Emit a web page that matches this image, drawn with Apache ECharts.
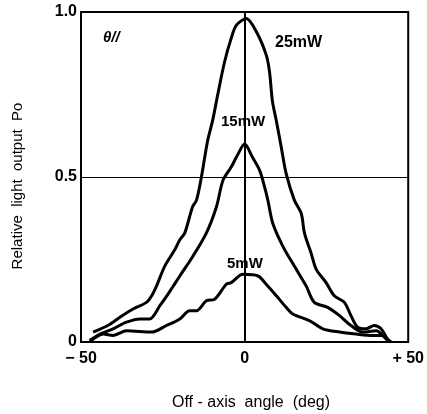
<!DOCTYPE html>
<html>
<head>
<meta charset="utf-8">
<script src="https://cdn.jsdelivr.net/npm/echarts@6/dist/echarts.min.js"></script>
<style>
  html, body { margin: 0; padding: 0; background: #fff; }
  #chart { width: 427px; height: 414px; }
</style>
</head>
<body>
<div id="chart"></div>
<script>
// off-axis angle (deg) vs relative light output
const p25x = [-46.3, -41.8, -38.1, -34.1, -30.0, -28.4, -26.9, -24.4, -21.3, -19.8, -18.3, -15.9, -14.7, -13.2, -11.3, -9.8, -8.2, -6.1, -4.1, -2.5, 0.5, 3.6, 6.6, 7.6, 8.5, 9.7, 11.2, 12.7, 15.2, 17.3, 18.3, 20.3, 21.9, 24.9, 27.4, 30.5, 32.5, 34.5, 37.1, 39.6, 41.7, 43.6, 44.7]
const p25y = [0.03, 0.05, 0.075, 0.10, 0.12, 0.14, 0.17, 0.23, 0.28, 0.31, 0.33, 0.41, 0.43, 0.50, 0.61, 0.67, 0.75, 0.85, 0.92, 0.96, 0.98, 0.94, 0.87, 0.82, 0.73, 0.67, 0.59, 0.51, 0.43, 0.39, 0.33, 0.27, 0.22, 0.18, 0.14, 0.12, 0.08, 0.045, 0.04, 0.05, 0.04, 0.01, 0]

const p15x = [-47.3, -44.2, -40.2, -36.1, -32.0, -29.0, -25.9, -23.4, -19.8, -15.8, -11.7, -8.6, -6.6, -4.1, -2.0, 0, 2.4, 4.6, 6.1, 7.1, 8.6, 11.7, 15.2, 18.8, 21.3, 25.4, 29.0, 32.5, 36.1, 40.2, 43.2, 44.2]
const p15y = [0.005, 0.024, 0.04, 0.06, 0.07, 0.07, 0.11, 0.145, 0.20, 0.26, 0.33, 0.41, 0.49, 0.53, 0.57, 0.60, 0.56, 0.52, 0.47, 0.43, 0.36, 0.29, 0.23, 0.17, 0.12, 0.105, 0.08, 0.05, 0.03, 0.034, 0.01, 0]

const p5x = [-47.3, -43.2, -40.2, -36.1, -28.4, -23.9, -19.8, -16.8, -14.7, -11.7, -9.1, -5.6, -4.1, -0.5, 4.1, 6.6, 9.7, 12.7, 14.7, 19.8, 23.9, 29.0, 34.1, 39.1, 42.2, 43.7, 44.7]
const p5y = [0, 0.024, 0.02, 0.034, 0.03, 0.05, 0.07, 0.095, 0.095, 0.125, 0.13, 0.175, 0.18, 0.205, 0.20, 0.175, 0.14, 0.105, 0.085, 0.065, 0.04, 0.03, 0.024, 0.02, 0.02, 0.005, 0]

const xTicks = {'-50': '− 50', '0': '0', '50': '+ 50'}
const yTicks = {'0': '0', '0.5': '0.5', '1': '1.0'}

function pairs(xs, ys) {
    return xs.map((x, i) => [x, ys[i]])
}

let chart = echarts.init(document.getElementById('chart'))

const FONT = 'Liberation Sans'

function curve(name, xs, ys) {
    return {
        name: name,
        type: 'line',
        data: pairs(xs, ys),
        symbol: 'none',
        smooth: 0.3,
        lineStyle: { color: '#000', width: 3 },
        z: 5
    }
}

let option = {
    backgroundColor: '#fff',
    animation: false,
    grid: {
        left: 81,
        right: 18,
        top: 12,
        bottom: 72,
        show: true,
        borderColor: '#000',
        borderWidth: 2
    },
    xAxis: {
        type: 'value',
        min: -50,
        max: 50,
        interval: 50,
        axisLine: { show: true, lineStyle: { color: '#000', width: 2 } },
        axisTick: { show: false },
        splitLine: { show: true, lineStyle: { color: '#000', width: 1 } },
        axisLabel: {
            margin: 9,
            color: '#000',
            fontFamily: FONT,
            fontWeight: 'bold',
            fontSize: 16,
            formatter: v => xTicks[String(v)]
        }
    },
    yAxis: {
        type: 'value',
        min: 0,
        max: 1,
        interval: 0.5,
        axisLine: { show: true, lineStyle: { color: '#000', width: 2 } },
        axisTick: { show: false },
        splitLine: { show: true, lineStyle: { color: '#000', width: 1 } },
        axisLabel: {
            margin: 4,
            color: '#000',
            fontFamily: FONT,
            fontWeight: 'bold',
            fontSize: 16,
            formatter: v => yTicks[String(v)]
        }
    },
    graphic: [
        {
            type: 'text', left: 103, top: 30,
            style: { text: 'θ//', font: 'italic bold 15px "Liberation Sans"', fill: '#000' }
        },
        {
            type: 'text', left: 275, top: 35,
            style: { text: '25mW', font: 'bold 16px "Liberation Sans"', fill: '#000' }
        },
        {
            type: 'text', left: 221, top: 114,
            style: { text: '15mW', font: 'bold 15px "Liberation Sans"', fill: '#000' }
        },
        {
            type: 'text', left: 227, top: 256,
            style: { text: '5mW', font: 'bold 15px "Liberation Sans"', fill: '#000' }
        },
        {
            type: 'text', x: 18, y: 186, rotation: Math.PI / 2,
            style: {
                text: 'Relative  light  output  Po',
                font: '15px "Liberation Sans"', fill: '#000',
                align: 'center', verticalAlign: 'middle'
            }
        },
        {
            type: 'text', x: 251, y: 403,
            style: {
                text: 'Off - axis  angle  (deg)',
                font: '16px "Liberation Sans"', fill: '#000',
                align: 'center', verticalAlign: 'middle'
            }
        }
    ],
    series: [
        curve('25mW', p25x, p25y),
        curve('15mW', p15x, p15y),
        curve('5mW', p5x, p5y)
    ]
}

option && chart.setOption(option)
</script>
</body>
</html>
